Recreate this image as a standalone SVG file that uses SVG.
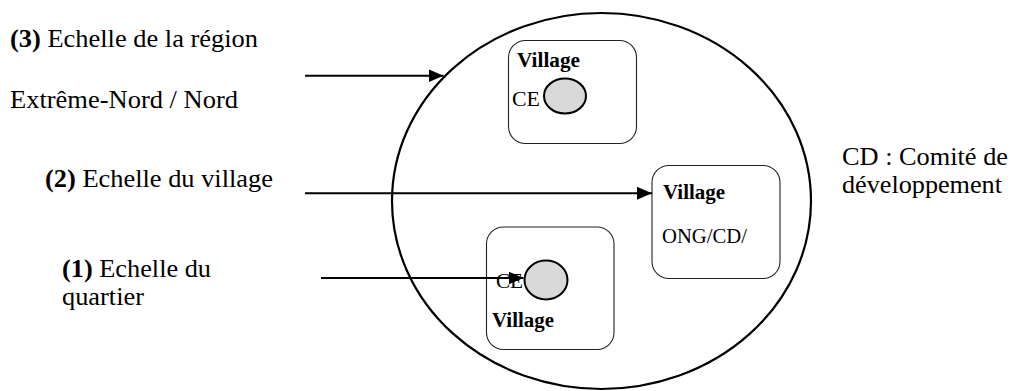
<svg xmlns="http://www.w3.org/2000/svg" width="1010" height="391" viewBox="0 0 1010 391" font-family="'Liberation Serif', serif">
  <style>
    .lbl { font-size: 25px; }
    .box-t { font-size: 20px; }
    .b { font-weight: bold; }
    .region { fill: #fff; stroke: #000; stroke-width: 2.2; }
    .village { fill: #fff; stroke: #222; stroke-width: 1.1; }
    .ce { fill: #d9d9d9; stroke: #000; stroke-width: 2; }
    .arrow { stroke: #000; stroke-width: 2; fill: none; marker-end: url(#head); }
  </style>
  <defs>
    <marker id="head" markerUnits="userSpaceOnUse" viewBox="0 0 15 13" refX="15" refY="6.5" markerWidth="15" markerHeight="13" orient="auto">
      <path d="M0,0 L15,6.5 L0,13 Z" fill="#000"/>
    </marker>
  </defs>

  <!-- region scale (outer ellipse) -->
  <g id="region">
    <ellipse class="region" cx="601.5" cy="201" rx="209.5" ry="188"/>
  </g>

  <!-- village with its CE (top) -->
  <g id="village-top">
    <rect class="village" x="508.5" y="40.5" width="128" height="103" rx="17"/>
    <text class="box-t b" x="517" y="67" textLength="63" lengthAdjust="spacingAndGlyphs">Village</text>
    <text class="box-t" x="512" y="106" textLength="28" lengthAdjust="spacingAndGlyphs">CE</text>
    <ellipse class="ce" cx="565" cy="96" rx="21" ry="17.5"/>
  </g>

  <!-- village with NGO / development committee -->
  <g id="village-middle">
    <rect class="village" x="652" y="165.5" width="128" height="113" rx="17"/>
    <text class="box-t b" x="663" y="199" textLength="62" lengthAdjust="spacingAndGlyphs">Village</text>
    <text class="box-t" x="662" y="243" textLength="85" lengthAdjust="spacingAndGlyphs">ONG/CD/</text>
  </g>

  <!-- neighbourhood-level village (bottom) -->
  <g id="village-bottom">
    <rect class="village" x="486.5" y="227" width="127.5" height="122.5" rx="17"/>
    <text class="box-t" x="496" y="288" textLength="27" lengthAdjust="spacingAndGlyphs">CE</text>
    <ellipse class="ce" cx="546" cy="280" rx="21.5" ry="19.5"/>
    <text class="box-t b" x="492" y="327" textLength="62" lengthAdjust="spacingAndGlyphs">Village</text>
  </g>

  <!-- scale labels -->
  <g id="label-region">
    <text class="lbl" x="10" y="47" textLength="248" lengthAdjust="spacingAndGlyphs"><tspan class="b">(3)</tspan> Echelle de la région</text>
    <text class="lbl" x="10" y="108" textLength="228" lengthAdjust="spacingAndGlyphs">Extrême-Nord / Nord</text>
  </g>
  <g id="label-village">
    <text class="lbl" x="45" y="187" textLength="228" lengthAdjust="spacingAndGlyphs"><tspan class="b">(2)</tspan> Echelle du village</text>
  </g>
  <g id="label-quartier">
    <text class="lbl" x="62" y="277" textLength="149" lengthAdjust="spacingAndGlyphs"><tspan class="b">(1)</tspan> Echelle du</text>
    <text class="lbl" x="62" y="305" textLength="82" lengthAdjust="spacingAndGlyphs">quartier</text>
  </g>
  <g id="legend">
    <text class="lbl" x="842" y="165" textLength="166" lengthAdjust="spacingAndGlyphs">CD : Comité de</text>
    <text class="lbl" x="842" y="193" textLength="160" lengthAdjust="spacingAndGlyphs">développement</text>
  </g>

  <!-- connectors -->
  <g id="connectors">
    <line class="arrow" x1="305" y1="75.7" x2="443.5" y2="75.7"/>
    <line class="arrow" x1="305" y1="193.3" x2="652" y2="193.3"/>
    <line class="arrow" x1="321" y1="278" x2="523.5" y2="278"/>
  </g>
</svg>
